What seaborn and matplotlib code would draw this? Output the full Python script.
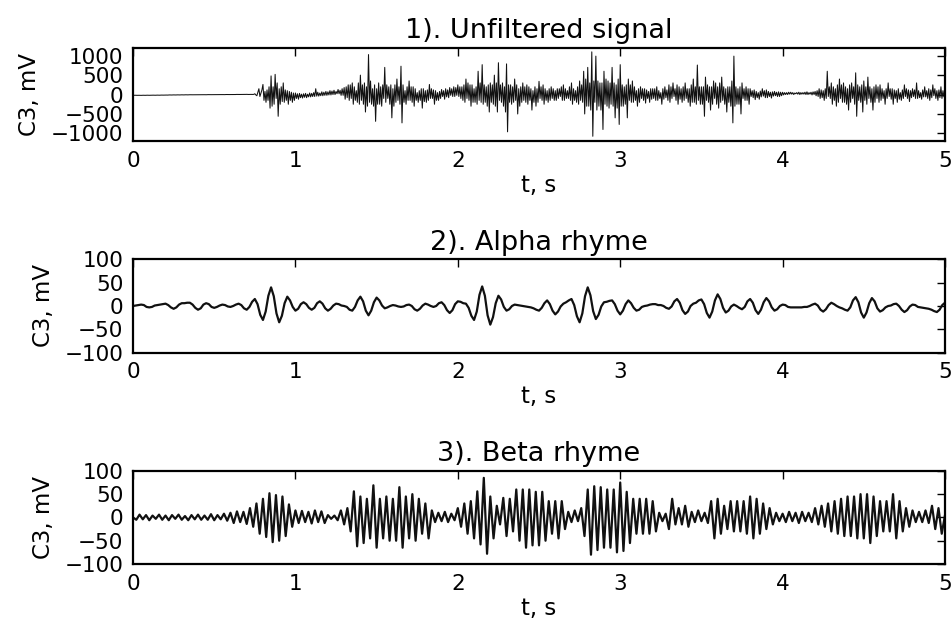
import numpy as np
import pandas as pd
import seaborn as sns
import matplotlib.pyplot as plt

# unfiltered C3 signal, mV, read every 0.00625 s from 0 to 5 s (one row = 0.2 s)
raw_mv = [
    -20, -19, -18, -20, -20, -19, -19, -21, -21, -19, -18, -20, -20, -18, -17, -19,
    -19, -18, -18, -17, -16, -17, -18, -16, -15, -16, -17, -15, -14, -15, -15, -14,
    -12, -13, -14, -12, -10, -11, -12, -10, -9, -10, -11, -9, -8, -9, -10, -8,
    -7, -8, -9, -7, -6, -7, -8, -6, -5, -6, -7, -6, -6, -5, -5, -6,
    -6, -5, -4, -5, -5, -4, -3, -4, -5, -3, -2, -3, -4, -3, -3, -2,
    -2, -3, -4, -2, -1, -2, -3, -1, 0, -1, -2, 0, 1, 0, -1, 0,
    0, 1, 2, 1, -1, 1, 3, 2, 1, 2, 2, 1, 0, 2, 3, 4,
    5, 3, 2, 4, 4, 3, 3, 5, 20, -10, -30, 60, 150, -50, 40, 120,
    260, -150, 80, -200, 120, -150, 200, -350, 480, -300, 200, -250, 520, -100, 300, -560,
    150, -250, 200, -180, 300, -200, 120, -150, 100, -250, 80, -150, 60, -200, 40, -150,
    40, -100, 20, -120, 30, -80, 10, -90, 20, -70, 30, -80, 10, -60, 40, -60,
    30, -50, 50, -50, 150, -40, 60, -40, 40, -30, 70, -30, 60, -20, 80, -20,
    70, -10, 100, -10, 90, 0, 110, 0, 80, 20, 130, 20, 110, -20, 150, -20,
    180, -120, 200, -80, 250, -150, 250, -100, 300, -250, 200, -150, 100, -200, 300, -250,
    500, -150, 250, -250, 300, -450, 200, -300, 1030, -200, 350, -250, 150, -300, 250, -690,
    150, -250, 300, -250, 200, -300, 250, -100, 700, -200, 250, -100, 200, -250, 250, -600,
    150, -300, 250, -200, 400, -150, 200, -250, 730, -730, 250, -200, 100, -250, 200, -150,
    350, -150, 200, -200, 200, -300, 150, -150, 50, -200, 100, -150, 150, -350, 150, -180,
    100, -200, 120, -150, 260, -100, 150, -100, 120, -250, 100, -150, 50, -150, 80, -100,
    130, -50, 100, -120, 150, -60, 120, -80, 180, -20, 150, -50, 200, -50, 180, -20,
    250, -50, 200, -100, 200, -150, 250, -200, 400, -100, 300, -150, 250, -300, 250, -200,
    150, -200, 200, -250, 600, -150, 300, -200, 770, -250, 250, -200, 200, -300, 250, -450,
    300, -200, 250, -250, 500, -300, 300, -450, 820, -150, 250, -200, 300, -300, 200, -450,
    790, -960, 250, -200, 250, -250, 200, -200, 400, -150, 250, -500, 150, -300, 200, -200,
    300, -150, 200, -200, 250, -250, 200, -150, 150, -400, 100, -200, 200, -300, 150, -200,
    340, -100, 200, -150, 250, -250, 150, -150, 100, -200, 150, -150, 200, -100, 150, -150,
    100, -150, 150, -100, 150, -50, 200, -150, 250, -150, 150, -100, 100, -100, 200, -150,
    300, -250, 150, -150, 100, -200, 200, -250, 350, -150, 250, -200, 600, -500, 400, -300,
    700, -300, 300, -400, 1100, -1075, 350, -200, 990, -400, 350, -300, 300, -400, 300, -900,
    600, -250, 400, -300, 350, -350, 300, -250, 700, -300, 300, -600, 250, -350, 400, -770,
    770, -300, 250, -300, 200, -250, 250, -600, 400, -150, 250, -200, 350, -200, 200, -150,
    100, -300, 150, -200, 200, -100, 150, -150, 150, -220, 120, -100, 80, -200, 150, -120,
    150, -100, 150, -150, 200, -150, 100, -100, 50, -250, 150, -120, 200, -80, 120, -150,
    250, -200, 200, -100, 300, -50, 150, -150, 250, -250, 200, -120, 150, -200, 200, -150,
    300, -100, 150, -200, 150, -300, 250, -200, 400, -200, 200, -250, 760, -150, 200, -250,
    200, -250, 200, -560, 450, -150, 250, -200, 200, -400, 200, -250, 350, -100, 300, -250,
    200, -350, 300, -200, 450, -150, 200, -250, 150, -450, 200, -200, 200, -300, 350, -730,
    990, -300, 200, -250, 150, -250, 200, -500, 300, -100, 150, -150, 200, -150, 150, -250,
    150, -50, 100, -80, 120, -130, 80, -80, 50, -120, 90, -60, 150, -40, 100, -80,
    120, -80, 80, -50, 60, -90, 70, -40, 80, -30, 60, -50, 70, -50, 60, -30,
    60, -10, 50, 0, 50, 0, 60, 10, 60, 10, 50, 0, 40, 20, 50, 10,
    60, 0, 50, 10, 50, 10, 60, 0, 70, 0, 50, 10, 60, -10, 70, 0,
    80, -30, 100, -50, 150, -100, 120, -80, 100, -150, 150, -100, 600, -50, 200, -100,
    300, -250, 200, -150, 150, -300, 250, -200, 400, -100, 250, -200, 300, -200, 200, -250,
    150, -400, 250, -200, 300, -100, 200, -250, 560, -560, 250, -150, 200, -200, 250, -450,
    350, -150, 200, -250, 450, -100, 200, -200, 150, -400, 200, -200, 250, -100, 200, -200,
    250, -150, 150, -100, 100, -250, 150, -100, 300, -50, 150, -120, 150, -250, 120, -100,
    100, -200, 150, -120, 50, -150, 120, -100, 250, -50, 150, -100, 120, -180, 100, -80,
    150, -50, 120, -100, 300, -100, 100, -80, 50, -120, 120, -60, 200, -60, 100, -100,
    150, -150, 120, -80, 250, -30, 150, -100, 100, -150, 120, -80, 200, -100, 100, -60,
    50,
]

# alpha band, mV, every 1/60 s (three readings per half wave)
alpha_mv = [
    0, 1, 2, 3, 2, -2, -3, -2, 1, 2, 3, 4, 5, 2, -3, -6, -3, 3, 6, 6, 7,
    7, 3, -4, -8, -5, 3, 6, 4, -2, -4, -2, 1, 3, 2, -1, -2, 0, 3, 5, 2, -5,
    -8, -2, 9, 15, 4, -19, -30, -12, 22, 40, 21, -16, -35, -21, 6, 20, 12, -2,
    -10, -6, 4, 8, 4, -4, -8, -4, 6, 10, 5, -5, -10, -6, 1, 5, 4, 1,
    0, -2, -8, -10, -2, 12, 20, 10, -10, -20, -10, 8, 18, 12, 1, -5, -3, 0,
    2, 1, -1, -2, -1, 2, 3, 0, -7, -10, -6, 1, 5, 3, 0, -2, 0, 6,
    8, 2, -9, -15, -9, 4, 10, 9, 6, 5, -4, -21, -30, -12, 24, 42, 22, -20,
    -40, -24, 6, 22, 14, -2, -10, -7, 0, 3, 2, 1, 0, -1, -2, -3, -5, -8,
    -10, -4, 6, 12, 4, -10, -18, -12, -1, 5, 8, 12, 15, 2, -22, -35, -16, 21,
    40, 23, -11, -28, -19, -1, 8, 9, 11, 12, 4, -10, -18, -10, 4, 12, 6, -4,
    -10, -8, -2, 0, 1, 3, 4, 4, 2, 2, 0, -4, -6, -1, 10, 15, 7, -9,
    -17, -12, 0, 5, 7, 12, 14, 4, -15, -25, -12, 12, 25, 15, -4, -14, -10, -1,
    3, 0, -4, -7, -2, 10, 15, 7, -9, -17, -8, 8, 17, 10, -3, -10, -7, 0,
    3, 2, -2, -3, -3, -3, -3, -3, -2, -2, 0, 3, 5, 1, -8, -12, -7, 2,
    7, 4, 0, -3, -5, -8, -10, -3, 12, 19, 8, -14, -25, -14, 6, 17, 10, -5,
    -12, -9, -3, 0, 1, 4, 5, 0, -8, -13, -9, -1, 3, 2, -2, -3, -4, -5,
    -6, -8, -11, -13, -8, 2, 7,
]

# beta band, mV, every 0.02 s
beta_mv = [
    0, -5, 6, -4, 5, -6, 4, -3, 6, -5,
    4, -6, 5, -3, 6, -5, 3, -6, 5, -4,
    6, -5, 4, -5, 7, -6, 5, -4, 8, -7,
    10, -12, 13, -10, 12, -14, 20, -20, 30, -35,
    40, -42, 52, -53, 48, -50, 45, -40, 28, -20,
    15, -12, 14, -10, 12, -13, 15, -10, 13, -12,
    5, -3, 4, -6, 15, -15, 20, -30, 56, -62,
    45, -55, 40, -45, 69, -65, 40, -45, 45, -50,
    40, -50, 65, -65, 45, -45, 50, -50, 40, -35,
    30, -45, 15, -10, 10, -8, 12, -10, 8, -6,
    20, -20, 30, -35, 35, -45, 56, -58, 85, -78,
    45, -45, 25, -15, 42, -40, 40, -30, 60, -50,
    60, -65, 60, -60, 55, -60, 55, -50, 35, -35,
    35, -45, 35, -25, 12, -10, 15, -8, 20, -40,
    60, -80, 67, -70, 65, -65, 60, -65, 60, -75,
    75, -72, 55, -55, 40, -35, 40, -35, 40, -35,
    35, -30, 10, -8, 8, -25, 40, -15, 20, -15,
    25, -20, 12, -10, 15, -8, 10, -12, 35, -45,
    40, -35, 25, -25, 35, -30, 35, -30, 35, -35,
    45, -45, 40, -35, 30, -25, 20, -15, 10, -8,
    8, -10, 12, -8, 10, -12, 12, -8, 10, -10,
    20, -15, 25, -20, 30, -30, 35, -35, 40, -40,
    45, -40, 45, -45, 50, -45, 50, -55, 45, -40,
    35, -30, 35, -30, 50, -45, 35, -30, 20, -20,
    15, -10, 12, -10, 15, -12, 25, -25, 20, -35,
    5,
]

titles = ["1). Unfiltered signal", "2). Alpha rhyme", "3). Beta rhyme"]
signals = [raw_mv, alpha_mv, beta_mv]
ylims = [(-1200, 1200), (-100, 100), (-100, 100)]
yticks = [[-1000, -500, 0, 500, 1000], [-100, -50, 0, 50, 100], [-100, -50, 0, 50, 100]]
xticks = [0, 1, 2, 3, 4, 5]

sns.set_style("white")
plt.rcParams["font.family"] = ["DejaVu Sans"]
plt.rcParams["axes.linewidth"] = 1.6
plt.rcParams["text.color"] = "black"
plt.rcParams["axes.labelcolor"] = "black"

fig, axes = plt.subplots(3, 1, figsize=(9.53, 6.28), dpi=100)
fig.subplots_adjust(left=0.1396, right=0.9916, top=0.9236, bottom=0.1019, hspace=1.27)

for i, ax in enumerate(axes):
    vals = signals[i]
    df = pd.DataFrame({"t": np.linspace(0, 5, len(vals)), "mv": vals})
    lw = 0.75 if i == 0 else 1.6
    sns.lineplot(data=df, x="t", y="mv", ax=ax, color="#111111", lw=lw,
                 estimator=None, solid_joinstyle="round")
    ax.set_xlim(0, 5)
    ax.set_ylim(*ylims[i])
    ax.set_xticks(xticks)
    ax.set_yticks(yticks[i])
    ax.tick_params(direction="in", top=True, right=True, length=6, width=1,
                   labelsize=15.5, pad=7, colors="black")
    for s in ax.spines.values():
        s.set_color("black")
    ax.set_title(titles[i], fontsize=19.5, pad=7)
    ax.set_xlabel("t, s", fontsize=16.5, labelpad=2)
    ax.set_ylabel("C3, mV", fontsize=16.5, labelpad=7)

fig.savefig("out.png", dpi=100)
